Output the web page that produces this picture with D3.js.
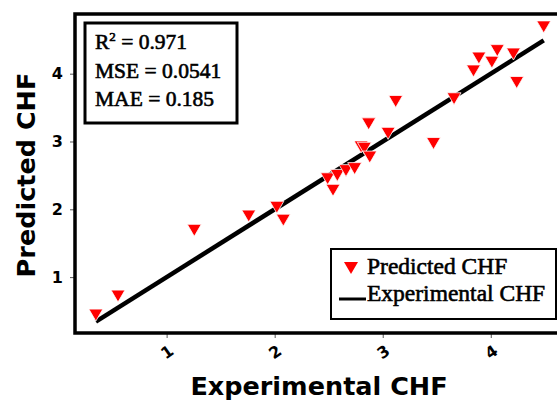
<!DOCTYPE html>
<html>
<head>
<meta charset="utf-8">
<script src="https://cdn.jsdelivr.net/npm/d3@7"></script>
<style>
  body { margin: 0; background: #fff; }
  svg { display: block; }
</style>
</head>
<body>
<div id="chart"></div>
<script>
// values
const experimental = [0.345, 0.55, 1.256, 1.76, 2.02, 2.08, 2.49, 2.54, 2.58, 2.66, 2.74, 2.80, 2.83, 2.88, 2.87, 3.05, 3.12, 3.47, 3.66, 3.84, 3.89, 4.01, 4.06, 4.21, 4.24, 4.49]
const predicted = [0.44, 0.72, 1.69, 1.90, 2.03, 1.84, 2.45, 2.28, 2.50, 2.57, 2.60, 2.92, 2.90, 2.77, 3.26, 3.12, 3.59, 2.97, 3.63, 4.04, 4.23, 4.17, 4.34, 4.29, 3.87, 4.69]
const xTicks = [1, 2, 3, 4]
const yTicks = [1, 2, 3, 4]
const stats = ["= 0.971", "MSE = 0.0541", "MAE = 0.185"]
const legendLabels = ["Predicted CHF", "Experimental CHF"]

const w = 557
const h = 400
const mLeft = 75, mRight = 561, mTop = 14, mBottom = 333

const x = d3.scaleLinear().domain([0.152, 4.65]).range([mLeft, mRight])
const y = d3.scaleLinear().domain([0.176, 4.88]).range([mBottom, mTop])

const svg = d3.select("#chart")
              .append("svg")
              .attr("width", w)
              .attr("height", h)

const tri = d3.symbol().type({
  draw(ctx) {
    ctx.moveTo(-7, -6)
    ctx.lineTo(7, -6)
    ctx.lineTo(0, 6)
    ctx.closePath()
  }
})

// axes
const xAxis = svg.append("g")
   .attr("transform", `translate(0,${mBottom})`)
   .call(d3.axisBottom(x).tickValues(xTicks).tickSize(5).tickPadding(6).tickFormat(d3.format("d")))
xAxis.select(".domain").remove()
xAxis.selectAll("line").attr("stroke", "#555").attr("stroke-width", 1)
xAxis.selectAll("text")
   .attr("font-family", "DejaVu Sans")
   .attr("font-weight", "bold")
   .attr("font-size", 16)
   .attr("fill", "#000")
   .attr("text-anchor", "middle")
   .attr("y", 0)
   .attr("dy", "0.35em")
   .attr("transform", "translate(0,19) rotate(-35)")

const yAxis = svg.append("g")
   .attr("transform", `translate(${mLeft},0)`)
   .call(d3.axisLeft(y).tickValues(yTicks).tickSize(5).tickPadding(7).tickFormat(d3.format("d")))
yAxis.select(".domain").remove()
yAxis.selectAll("line").attr("stroke", "#555").attr("stroke-width", 1)
yAxis.selectAll("text")
   .attr("font-family", "DejaVu Sans")
   .attr("font-weight", "bold")
   .attr("font-size", 16)
   .attr("fill", "#000")

// frame
svg.append("rect")
   .attr("x", mLeft)
   .attr("y", mTop)
   .attr("width", mRight - mLeft)
   .attr("height", mBottom - mTop)
   .attr("fill", "none")
   .attr("stroke", "#000")
   .attr("stroke-width", 3.5)

// y = x reference line across the experimental range
const ext = d3.extent(experimental)
svg.append("line")
   .attr("x1", x(ext[0]))
   .attr("y1", y(ext[0]))
   .attr("x2", x(ext[1]))
   .attr("y2", y(ext[1]))
   .attr("stroke", "#000")
   .attr("stroke-width", 4.5)

svg.selectAll("path.pt")
   .data(experimental)
   .enter()
   .append("path")
   .attr("class", "pt")
   .attr("d", tri)
   .attr("transform", (d, i) => `translate(${x(d)},${y(predicted[i])})`)
   .attr("fill", "#ff0000")
   .attr("stroke", "#fff")
   .attr("stroke-width", 0.8)

// stats box
svg.append("rect")
   .attr("x", 85).attr("y", 23)
   .attr("width", 152).attr("height", 100)
   .attr("fill", "#fff")
   .attr("stroke", "#000")
   .attr("stroke-width", 3)

const statText = svg.append("g")
   .attr("font-family", "Liberation Serif")
   .attr("font-size", 21.5)
   .attr("fill", "#000")
   .attr("stroke", "#000")
   .attr("stroke-width", 0.6)

const r2 = statText.append("text").attr("x", 95).attr("y", 49)
r2.append("tspan").text("R")
r2.append("tspan").text("2").attr("font-size", 13).attr("dy", -8)
r2.append("tspan").text(" " + stats[0]).attr("dy", 8)

statText.selectAll("text.s")
   .data(stats.slice(1))
   .enter()
   .append("text")
   .attr("class", "s")
   .attr("x", 95)
   .attr("y", (d, i) => 78 + i * 28)
   .text(d => d)

// legend
const lg = svg.append("g")
lg.append("rect")
   .attr("x", 331).attr("y", 249)
   .attr("width", 225).attr("height", 70)
   .attr("fill", "#fff")
   .attr("stroke", "#000")
   .attr("stroke-width", 2)
lg.append("path")
   .attr("d", tri)
   .attr("transform", "translate(351,268)")
   .attr("fill", "#ff0000")
lg.append("line")
   .attr("x1", 339).attr("x2", 366)
   .attr("y1", 299).attr("y2", 299)
   .attr("stroke", "#000")
   .attr("stroke-width", 3)
lg.selectAll("text")
   .data(legendLabels)
   .enter()
   .append("text")
   .attr("x", 367)
   .attr("y", (d, i) => 274 + i * 27)
   .attr("font-family", "Liberation Serif")
   .attr("font-size", 23.5)
   .attr("fill", "#000")
   .attr("stroke", "#000")
   .attr("stroke-width", 0.6)
   .text(d => d)

// axis titles
svg.append("text")
   .attr("x", 319)
   .attr("y", 395)
   .attr("text-anchor", "middle")
   .attr("font-family", "DejaVu Sans")
   .attr("font-weight", "bold")
   .attr("font-size", 25.5)
   .text("Experimental CHF")

svg.append("text")
   .attr("transform", "translate(35,175) rotate(-90)")
   .attr("text-anchor", "middle")
   .attr("font-family", "DejaVu Sans")
   .attr("font-weight", "bold")
   .attr("font-size", 25.5)
   .text("Predicted CHF")
</script>
</body>
</html>
